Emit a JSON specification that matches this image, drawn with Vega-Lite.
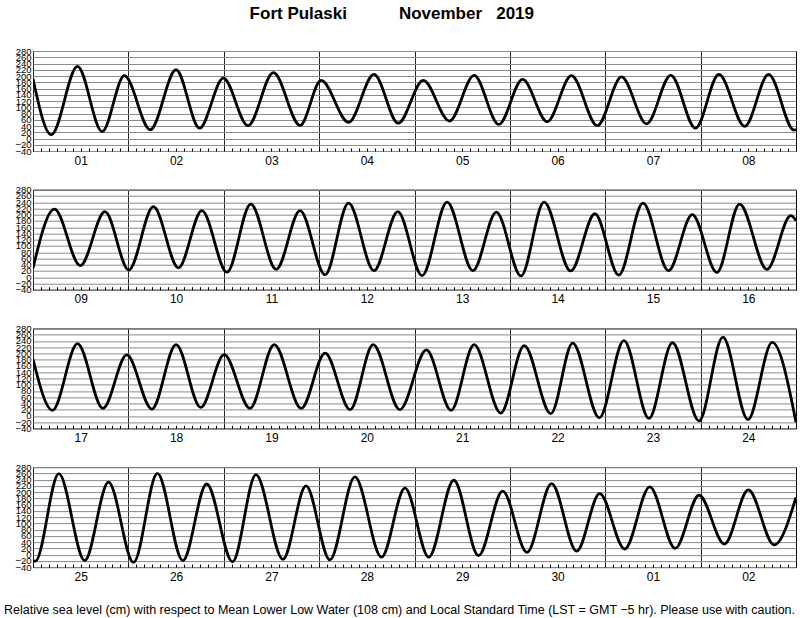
{
  "$schema": "https://vega.github.io/schema/vega-lite/v6.json",
  "padding": {"left": 2, "top": 4, "right": 0, "bottom": 0},
  "bounds": "flush",
  "spacing": 38.7,
  "title": {
    "text": "Fort Pulaski\u00a0\u00a0\u00a0\u00a0\u00a0\u00a0\u00a0\u00a0\u00a0\u00a0\u00a0November\u00a0\u00a0\u00a02019",
    "font": "Liberation Sans", "fontSize": 17, "fontWeight": "bold", "color": "black",
    "anchor": "middle", "offset": 23, "dx": -8
  },
  "config": {
    "view": {"stroke": "black", "strokeWidth": 1},
    "axis": {"labelFont": "Liberation Sans", "labelColor": "black", "titleFont": "Liberation Sans", "titleColor": "black"}
  },
  "data": {"values": [
    {"t": 0, "h": 190}, {"t": 4.6, "h": 12}, {"t": 11.2, "h": 231}, {"t": 17.4, "h": 22}, {"t": 23.0, "h": 201},
    {"t": 29.5, "h": 28}, {"t": 36.0, "h": 220}, {"t": 41.9, "h": 33}, {"t": 47.9, "h": 193}, {"t": 54.1, "h": 41},
    {"t": 60.5, "h": 211}, {"t": 67.2, "h": 42}, {"t": 72.5, "h": 186}, {"t": 79.4, "h": 52}, {"t": 85.8, "h": 205},
    {"t": 91.9, "h": 49}, {"t": 98.2, "h": 186}, {"t": 104.8, "h": 56}, {"t": 111.0, "h": 202}, {"t": 117.2, "h": 45},
    {"t": 123.2, "h": 189}, {"t": 129.4, "h": 54}, {"t": 135.5, "h": 201}, {"t": 142.0, "h": 41}, {"t": 148.1, "h": 197},
    {"t": 154.4, "h": 47}, {"t": 160.5, "h": 202}, {"t": 166.7, "h": 33}, {"t": 172.6, "h": 205}, {"t": 179.1, "h": 39},
    {"t": 185.1, "h": 205}, {"t": 191.5, "h": 27}, {"t": 192, "h": 29},
    {"t": 197.4, "h": 218}, {"t": 203.9, "h": 37}, {"t": 210.1, "h": 210}, {"t": 216.1, "h": 23}, {"t": 222.3, "h": 226},
    {"t": 228.6, "h": 30}, {"t": 234.5, "h": 213}, {"t": 240.8, "h": 16}, {"t": 246.8, "h": 234}, {"t": 253.2, "h": 25},
    {"t": 259.2, "h": 213}, {"t": 265.5, "h": 8}, {"t": 271.4, "h": 237}, {"t": 277.8, "h": 21}, {"t": 283.8, "h": 210},
    {"t": 289.9, "h": 5}, {"t": 296.2, "h": 240}, {"t": 302.7, "h": 21}, {"t": 308.6, "h": 208}, {"t": 314.8, "h": 4},
    {"t": 320.6, "h": 240}, {"t": 327.3, "h": 20}, {"t": 333.4, "h": 203}, {"t": 339.4, "h": 7}, {"t": 345.5, "h": 237},
    {"t": 351.9, "h": 21}, {"t": 357.9, "h": 200}, {"t": 364.1, "h": 15}, {"t": 369.8, "h": 234}, {"t": 376.7, "h": 25},
    {"t": 382.7, "h": 197}, {"t": 384, "h": 181},
    {"t": 388.9, "h": 18}, {"t": 395.2, "h": 231}, {"t": 401.6, "h": 24}, {"t": 407.6, "h": 195}, {"t": 413.9, "h": 22},
    {"t": 420.0, "h": 228}, {"t": 426.2, "h": 27}, {"t": 432.1, "h": 196}, {"t": 438.6, "h": 24}, {"t": 444.7, "h": 228},
    {"t": 451.5, "h": 24}, {"t": 457.5, "h": 201}, {"t": 463.8, "h": 20}, {"t": 469.6, "h": 228}, {"t": 476.3, "h": 20},
    {"t": 483.0, "h": 211}, {"t": 489.2, "h": 18}, {"t": 495.0, "h": 228}, {"t": 501.7, "h": 9}, {"t": 507.6, "h": 225},
    {"t": 514.3, "h": 7}, {"t": 519.8, "h": 233}, {"t": 526.5, "h": -6}, {"t": 532.7, "h": 241}, {"t": 539.0, "h": -8},
    {"t": 544.9, "h": 234}, {"t": 551.6, "h": -16}, {"t": 557.6, "h": 252}, {"t": 563.9, "h": -12}, {"t": 570.0, "h": 235},
    {"t": 576, "h": -20},
    {"t": 576.6, "h": -21}, {"t": 582.5, "h": 259}, {"t": 589.0, "h": -19}, {"t": 595.0, "h": 232}, {"t": 601.3, "h": -25},
    {"t": 607.3, "h": 260}, {"t": 613.7, "h": -19}, {"t": 619.7, "h": 226}, {"t": 626.2, "h": -23}, {"t": 632.1, "h": 256},
    {"t": 638.9, "h": -15}, {"t": 644.7, "h": 220}, {"t": 650.7, "h": -17}, {"t": 657.0, "h": 249}, {"t": 663.7, "h": -8},
    {"t": 669.6, "h": 213}, {"t": 675.6, "h": -8}, {"t": 681.9, "h": 238}, {"t": 688.1, "h": -3}, {"t": 694.2, "h": 203},
    {"t": 700.3, "h": 7}, {"t": 706.5, "h": 227}, {"t": 712.8, "h": 11}, {"t": 718.6, "h": 195}, {"t": 724.9, "h": 18},
    {"t": 731.2, "h": 217}, {"t": 737.6, "h": 20}, {"t": 743.6, "h": 190}, {"t": 750.0, "h": 34}, {"t": 756.0, "h": 207},
    {"t": 762.5, "h": 31}, {"t": 768, "h": 183}
  ]},
  "vconcat": [
    {
      "width": 763, "height": 100,
      "transform": [{"filter": {"field": "t", "range": [0, 192]}}],
      "encoding": {"y": {"field": "h", "type": "quantitative", "scale": {"domain": [-40, 280], "nice": false, "zero": false},
        "axis": {"values": [-40,-20,0,20,40,60,80,100,120,140,160,180,200,220,240,260,280], "grid": true, "gridColor": "#8c8c8c", "ticks": false, "domain": false, "labelOverlap": false, "labelFontSize": 9.5, "labelPadding": 2, "labelBound": false, "labelFlush": false, "title": null}}},
      "layer": [
        {"mark": {"type": "line", "interpolate": "monotone", "color": "black", "strokeWidth": 2.8, "clip": true},
         "encoding": {"x": {"field": "t", "type": "quantitative", "scale": {"domain": [0, 192], "nice": false, "zero": false},
           "axis": {"values": [0,24,48,72,96,120,144,168], "grid": true, "gridColor": "#222", "ticks": false, "tickSize": 0, "domain": false,
             "labelExpr": "(floor(datum.value/24) % 30 + 1 < 10 ? '0' : '') + (floor(datum.value/24) % 30 + 1)",
             "labelOffset": 47.7, "labelFlush": false, "labelBound": false, "labelOverlap": false, "labelFontSize": 12, "labelPadding": 4, "title": null}}}},
        {"mark": {"type": "line", "opacity": 0},
         "encoding": {"x": {"field": "t", "type": "quantitative",
           "axis": {"orient": "bottom", "tickCount": 96, "ticks": true, "tickSize": -3, "tickColor": "black", "labels": false, "domain": false, "grid": false, "title": null}}}}
      ],
      "resolve": {"axis": {"x": "independent"}}
    },
    {
      "width": 763, "height": 100,
      "transform": [{"filter": {"field": "t", "range": [192, 384]}}],
      "encoding": {"y": {"field": "h", "type": "quantitative", "scale": {"domain": [-40, 280], "nice": false, "zero": false},
        "axis": {"values": [-40,-20,0,20,40,60,80,100,120,140,160,180,200,220,240,260,280], "grid": true, "gridColor": "#8c8c8c", "ticks": false, "domain": false, "labelOverlap": false, "labelFontSize": 9.5, "labelPadding": 2, "labelBound": false, "labelFlush": false, "title": null}}},
      "layer": [
        {"mark": {"type": "line", "interpolate": "monotone", "color": "black", "strokeWidth": 2.8, "clip": true},
         "encoding": {"x": {"field": "t", "type": "quantitative", "scale": {"domain": [192, 384], "nice": false, "zero": false},
           "axis": {"values": [192,216,240,264,288,312,336,360], "grid": true, "gridColor": "#222", "ticks": false, "tickSize": 0, "domain": false,
             "labelExpr": "(floor(datum.value/24) % 30 + 1 < 10 ? '0' : '') + (floor(datum.value/24) % 30 + 1)",
             "labelOffset": 47.7, "labelFlush": false, "labelBound": false, "labelOverlap": false, "labelFontSize": 12, "labelPadding": 4, "title": null}}}},
        {"mark": {"type": "line", "opacity": 0},
         "encoding": {"x": {"field": "t", "type": "quantitative",
           "axis": {"orient": "bottom", "tickCount": 96, "ticks": true, "tickSize": -3, "tickColor": "black", "labels": false, "domain": false, "grid": false, "title": null}}}}
      ],
      "resolve": {"axis": {"x": "independent"}}
    },
    {
      "width": 763, "height": 100,
      "transform": [{"filter": {"field": "t", "range": [384, 576]}}],
      "encoding": {"y": {"field": "h", "type": "quantitative", "scale": {"domain": [-40, 280], "nice": false, "zero": false},
        "axis": {"values": [-40,-20,0,20,40,60,80,100,120,140,160,180,200,220,240,260,280], "grid": true, "gridColor": "#8c8c8c", "ticks": false, "domain": false, "labelOverlap": false, "labelFontSize": 9.5, "labelPadding": 2, "labelBound": false, "labelFlush": false, "title": null}}},
      "layer": [
        {"mark": {"type": "line", "interpolate": "monotone", "color": "black", "strokeWidth": 2.8, "clip": true},
         "encoding": {"x": {"field": "t", "type": "quantitative", "scale": {"domain": [384, 576], "nice": false, "zero": false},
           "axis": {"values": [384,408,432,456,480,504,528,552], "grid": true, "gridColor": "#222", "ticks": false, "tickSize": 0, "domain": false,
             "labelExpr": "(floor(datum.value/24) % 30 + 1 < 10 ? '0' : '') + (floor(datum.value/24) % 30 + 1)",
             "labelOffset": 47.7, "labelFlush": false, "labelBound": false, "labelOverlap": false, "labelFontSize": 12, "labelPadding": 4, "title": null}}}},
        {"mark": {"type": "line", "opacity": 0},
         "encoding": {"x": {"field": "t", "type": "quantitative",
           "axis": {"orient": "bottom", "tickCount": 96, "ticks": true, "tickSize": -3, "tickColor": "black", "labels": false, "domain": false, "grid": false, "title": null}}}}
      ],
      "resolve": {"axis": {"x": "independent"}}
    },
    {
      "width": 763, "height": 100,
      "transform": [{"filter": {"field": "t", "range": [576, 768]}}],
      "encoding": {"y": {"field": "h", "type": "quantitative", "scale": {"domain": [-40, 280], "nice": false, "zero": false},
        "axis": {"values": [-40,-20,0,20,40,60,80,100,120,140,160,180,200,220,240,260,280], "grid": true, "gridColor": "#8c8c8c", "ticks": false, "domain": false, "labelOverlap": false, "labelFontSize": 9.5, "labelPadding": 2, "labelBound": false, "labelFlush": false, "title": null}}},
      "layer": [
        {"mark": {"type": "line", "interpolate": "monotone", "color": "black", "strokeWidth": 2.8, "clip": true},
         "encoding": {"x": {"field": "t", "type": "quantitative", "scale": {"domain": [576, 768], "nice": false, "zero": false},
           "axis": {"values": [576,600,624,648,672,696,720,744], "grid": true, "gridColor": "#222", "ticks": false, "tickSize": 0, "domain": false,
             "labelExpr": "(floor(datum.value/24) % 30 + 1 < 10 ? '0' : '') + (floor(datum.value/24) % 30 + 1)",
             "labelOffset": 47.7, "labelFlush": false, "labelBound": false, "labelOverlap": false, "labelFontSize": 12, "labelPadding": 4,
             "title": "Relative sea level (cm) with respect to Mean Lower Low Water (108 cm) and Local Standard Time (LST = GMT \u22125 hr). Please use with caution.",
             "titleFontSize": 12.5, "titleFontWeight": "normal", "titlePadding": 21, "titleX": 366}}}},
        {"mark": {"type": "line", "opacity": 0},
         "encoding": {"x": {"field": "t", "type": "quantitative",
           "axis": {"orient": "bottom", "tickCount": 96, "ticks": true, "tickSize": -3, "tickColor": "black", "labels": false, "domain": false, "grid": false, "title": null}}}}
      ],
      "resolve": {"axis": {"x": "independent"}}
    }
  ]
}
